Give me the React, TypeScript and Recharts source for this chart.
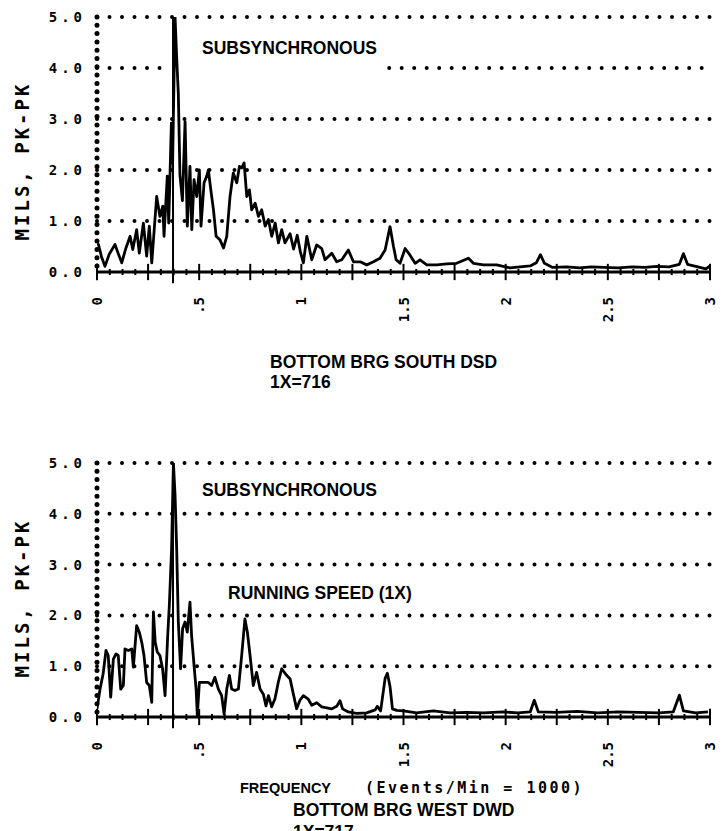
import React from 'react';
import { LineChart, Line, XAxis, YAxis, ReferenceLine } from 'recharts';

// ---- axes ----
const xTicks = [0, 0.5, 1, 1.5, 2, 2.5, 3];
const xTickLabels = ['0', '.5', '1', '1.5', '2', '2.5', '3'];
const yTicks = [0, 1, 2, 3, 4, 5];
const yTickLabels = ['0.0', '1.0', '2.0', '3.0', '4.0', '5.0'];
const majorMarks = [0, 0.25, 0.5, 0.75, 1, 1.25, 1.5, 1.75, 2, 2.25, 2.5, 2.75, 3];
const minorMarks = [0.0625, 0.125, 0.1875, 0.3125, 0.375, 0.4375, 0.5625, 0.625, 0.6875, 0.8125, 0.875, 0.9375,
  1.0625, 1.125, 1.1875, 1.3125, 1.375, 1.4375, 1.5625, 1.625, 1.6875, 1.8125, 1.875, 1.9375,
  2.0625, 2.125, 2.1875, 2.3125, 2.375, 2.4375, 2.5625, 2.625, 2.6875, 2.8125, 2.875, 2.9375];
const cursorFreq = 0.372;

// dotted grid rows: [level, from, to]
const southGrid = [[1, 0, 3], [2, 0, 3], [3, 0, 3], [4, 0, 0.32], [4, 1.43, 3], [5, 0, 3]];
const westGrid = [[1, 0, 3], [2, 0, 3], [3, 0, 3], [4, 0, 3], [5, 0, 3]];

// ---- top panel: BOTTOM BRG SOUTH DSD ----
const southFreq = [0, 0.007, 0.022, 0.039, 0.06, 0.088, 0.105, 0.121, 0.14, 0.162, 0.175, 0.194, 0.207, 0.227, 0.243,
  0.256, 0.268, 0.292, 0.308, 0.322, 0.328, 0.344, 0.351, 0.364, 0.37, 0.382, 0.39, 0.398, 0.406, 0.418, 0.431,
  0.442, 0.455, 0.464, 0.475, 0.488, 0.501, 0.509, 0.524, 0.537, 0.545, 0.557, 0.57, 0.583, 0.602, 0.619, 0.635,
  0.651, 0.667, 0.684, 0.697, 0.708, 0.72, 0.733, 0.746, 0.757, 0.774, 0.79, 0.806, 0.823, 0.839, 0.855, 0.872,
  0.888, 0.904, 0.92, 0.945, 0.962, 0.98, 0.995, 1.01, 1.027, 1.051, 1.075, 1.1, 1.116, 1.149, 1.173, 1.198,
  1.23, 1.255, 1.288, 1.32, 1.353, 1.385, 1.41, 1.434, 1.451, 1.464, 1.483, 1.508, 1.532, 1.557, 1.581, 1.614,
  1.663, 1.712, 1.76, 1.818, 1.842, 1.891, 1.956, 2.021, 2.07, 2.12, 2.15, 2.17, 2.19, 2.23, 2.3, 2.36, 2.42,
  2.48, 2.55, 2.62, 2.68, 2.74, 2.8, 2.85, 2.87, 2.89, 2.94, 2.98, 3.0];
const southAmp = [0.55, 0.54, 0.3, 0.11, 0.35, 0.54, 0.35, 0.18, 0.45, 0.7, 0.44, 0.83, 0.37, 0.96, 0.31,
  0.9, 0.18, 1.48, 1.09, 1.29, 0.7, 1.88, 0.96, 2.92, 2.14, 5.0, 4.2, 3.5, 1.9, 1.4, 2.95,
  0.9, 2.07, 0.83, 1.81, 1.48, 2.0, 0.9, 1.75, 1.88, 2.0, 1.61, 1.22, 0.7, 0.63, 0.47, 0.7,
  1.48, 1.94, 1.75, 2.07, 2.04, 2.14, 1.48, 1.61, 1.22, 1.35, 1.09, 1.22, 0.9, 1.03, 0.7, 0.96,
  0.57, 0.83, 0.57, 0.75, 0.45, 0.72, 0.4, 0.18, 0.7, 0.24, 0.53, 0.46, 0.24, 0.37, 0.2, 0.24,
  0.43, 0.2, 0.2, 0.14, 0.2, 0.27, 0.43, 0.89, 0.5, 0.24, 0.17, 0.46, 0.33, 0.17, 0.24, 0.14,
  0.14, 0.16, 0.17, 0.27, 0.17, 0.14, 0.14, 0.08, 0.1, 0.12, 0.18, 0.34, 0.17, 0.09, 0.1, 0.08, 0.1,
  0.09, 0.08, 0.1, 0.09, 0.11, 0.1, 0.15, 0.36, 0.15, 0.1, 0.06, 0.12];

// ---- bottom panel: BOTTOM BRG WEST DWD ----
const westFreq = [0, 0.015, 0.03, 0.044, 0.055, 0.067, 0.08, 0.093, 0.104, 0.116, 0.129, 0.137, 0.153, 0.17, 0.178,
  0.194, 0.207, 0.219, 0.23, 0.243, 0.256, 0.268, 0.276, 0.285, 0.295, 0.308, 0.321, 0.333, 0.346, 0.354, 0.365,
  0.374, 0.382, 0.39, 0.398, 0.409, 0.419, 0.431, 0.442, 0.455, 0.463, 0.475, 0.485, 0.491, 0.501, 0.52, 0.545,
  0.561, 0.577, 0.594, 0.61, 0.622, 0.635, 0.648, 0.659, 0.675, 0.692, 0.708, 0.724, 0.736, 0.749, 0.765, 0.781,
  0.798, 0.814, 0.827, 0.839, 0.855, 0.871, 0.887, 0.904, 0.928, 0.945, 0.961, 0.977, 0.993, 1.01, 1.034, 1.051,
  1.075, 1.1, 1.124, 1.149, 1.173, 1.189, 1.202, 1.23, 1.271, 1.32, 1.361, 1.372, 1.388, 1.41, 1.421, 1.434,
  1.446, 1.467, 1.499, 1.564, 1.646, 1.728, 1.809, 1.891, 1.989, 2.06, 2.12, 2.14, 2.16, 2.25, 2.35, 2.45,
  2.55, 2.65, 2.75, 2.82, 2.85, 2.87, 2.93, 2.99];
const westAmp = [0.16, 0.55, 0.85, 1.31, 1.21, 0.39, 1.14, 1.24, 1.21, 0.55, 0.62, 1.34, 1.31, 1.34, 0.98,
  1.8, 1.67, 1.47, 1.21, 0.68, 0.62, 0.29, 2.07, 1.47, 1.28, 1.21, 0.95, 0.42, 1.6, 2.2, 3.3,
  5.0, 4.37, 3.3, 1.87, 0.95, 1.74, 1.87, 1.67, 2.26, 1.6, 1.01, 0.55, 0.03, 0.68, 0.68, 0.68,
  0.62, 0.78, 0.55, 0.42, 0.06, 0.55, 0.82, 0.55, 0.52, 0.55, 1.21, 1.93, 1.67, 1.21, 0.62, 0.88,
  0.55, 0.45, 0.22, 0.42, 0.2, 0.36, 0.68, 0.95, 0.82, 0.75, 0.45, 0.16, 0.33, 0.42, 0.35, 0.23,
  0.28, 0.2, 0.18, 0.16, 0.21, 0.32, 0.16, 0.1, 0.07, 0.08, 0.14, 0.21, 0.12, 0.76, 0.86, 0.6,
  0.16, 0.13, 0.12, 0.08, 0.12, 0.08, 0.09, 0.08, 0.1, 0.08, 0.1, 0.33, 0.1, 0.09, 0.11, 0.08,
  0.1, 0.09, 0.08, 0.1, 0.43, 0.12, 0.08, 0.1];

const southData = southFreq.map((f, i) => ({ f, a: southAmp[i] }));
const westData = westFreq.map((f, i) => ({ f, a: westAmp[i] }));

const MONO = '"DejaVu Sans Mono", monospace';
const SANS = '"Liberation Sans", Arial, sans-serif';

const XTick = (props: any) => {
  const { x, y, payload } = props;
  const idx = xTicks.indexOf(payload.value);
  const ty = y + 25;
  return (
    <text x={x} y={ty} transform={`rotate(-90 ${x} ${ty})`} textAnchor="end" dy="0.36em"
      fontFamily={MONO} fontWeight="bold" fontSize={14} fill="#000">
      {idx >= 0 ? xTickLabels[idx] : ''}
    </text>
  );
};

const YTick = (props: any) => {
  const { x, y, payload } = props;
  const idx = yTicks.indexOf(payload.value);
  return (
    <text x={x - 11} y={y} textAnchor="end" dy="0.36em" fontFamily={MONO} fontWeight="bold"
      fontSize={14} letterSpacing={4} fill="#000">
      {idx >= 0 ? yTickLabels[idx] : ''}
    </text>
  );
};

function Panel({ data, grid, height, margin }: { data: { f: number; a: number }[]; grid: number[][]; height: number; margin: any }) {
  return (
    <LineChart width={725} height={height} data={data} margin={margin}>
      <XAxis dataKey="f" type="number" domain={[0, 3]} ticks={xTicks} interval={0} allowDataOverflow
        tick={XTick} tickLine={false} tickSize={0} tickMargin={0} height={30}
        axisLine={{ stroke: '#000', strokeWidth: 3 }} />
      <YAxis type="number" domain={[0, 5]} ticks={yTicks} interval={0} allowDataOverflow width={97}
        tick={YTick} tickLine={false} tickSize={0} tickMargin={0}
        axisLine={{ stroke: '#000', strokeWidth: 5, strokeDasharray: '0 8.3', strokeLinecap: 'round' }} />
      {grid.map(([lv, x0, x1], i) => (
        <ReferenceLine key={'g' + i} segment={[{ x: x0, y: lv }, { x: x1, y: lv }]} stroke="#000" strokeWidth={4}
          strokeDasharray="0 12.5" strokeLinecap="round" ifOverflow="visible" />
      ))}
      {majorMarks.map((m) => (
        <ReferenceLine key={'M' + m} segment={[{ x: m, y: -0.16 }, { x: m, y: 0.16 }]} stroke="#000"
          strokeWidth={2} ifOverflow="visible" />
      ))}
      {minorMarks.map((m) => (
        <ReferenceLine key={'m' + m} segment={[{ x: m, y: -0.06 }, { x: m, y: 0.06 }]} stroke="#000"
          strokeWidth={2} ifOverflow="visible" />
      ))}
      <ReferenceLine segment={[{ x: cursorFreq, y: -0.22 }, { x: cursorFreq, y: 5 }]} stroke="#000"
        strokeWidth={2} ifOverflow="visible" />
      <Line dataKey="a" type="linear" stroke="#000" strokeWidth={2.8} dot={false}
        isAnimationActive={false} strokeLinejoin="round" />
    </LineChart>
  );
}

export default function App() {
  const cap = { fontFamily: SANS, fontWeight: 700, fontSize: 17.5, fill: '#000' } as const;
  return (
    <div style={{ position: 'absolute', left: 0, top: 0, width: 725, height: 831, background: '#fff', overflow: 'hidden' }}>
      <div style={{ position: 'absolute', left: 0, top: 0 }}>
        <Panel data={southData} grid={southGrid} height={415} margin={{ top: 17, right: 15, bottom: 113, left: 0 }} />
      </div>
      <div style={{ position: 'absolute', left: 0, top: 415 }}>
        <Panel data={westData} grid={westGrid} height={416} margin={{ top: 48, right: 15, bottom: 84, left: 0 }} />
      </div>
      <svg width={725} height={831} style={{ position: 'absolute', left: 0, top: 0, pointerEvents: 'none' }}>
        <text x={22} y={161} transform="rotate(-90 22 161)" textAnchor="middle" dy="0.36em"
          fontFamily={MONO} fontWeight="bold" fontSize={19} letterSpacing={3} fill="#000">MILS, PK-PK</text>
        <text x={22} y={598} transform="rotate(-90 22 598)" textAnchor="middle" dy="0.36em"
          fontFamily={MONO} fontWeight="bold" fontSize={19} letterSpacing={3} fill="#000">MILS, PK-PK</text>
        <text x={202} y={54} {...cap}>SUBSYNCHRONOUS</text>
        <text x={270} y={368} {...cap}>BOTTOM BRG SOUTH DSD</text>
        <text x={270} y={388} {...cap}>1X=716</text>
        <text x={202} y={496} {...cap}>SUBSYNCHRONOUS</text>
        <text x={228} y={599} {...cap}>RUNNING SPEED (1X)</text>
        <text x={240} y={793} fontFamily={SANS} fontWeight={700} fontSize={14.5} fill="#000">FREQUENCY
          <tspan x={365} fontFamily={MONO} fontSize={15} letterSpacing={2.5}>(Events/Min = 1000)</tspan>
        </text>
        <text x={293} y={816} {...cap}>BOTTOM BRG WEST DWD</text>
        <text x={293} y={838} {...cap}>1X=717</text>
      </svg>
    </div>
  );
}
